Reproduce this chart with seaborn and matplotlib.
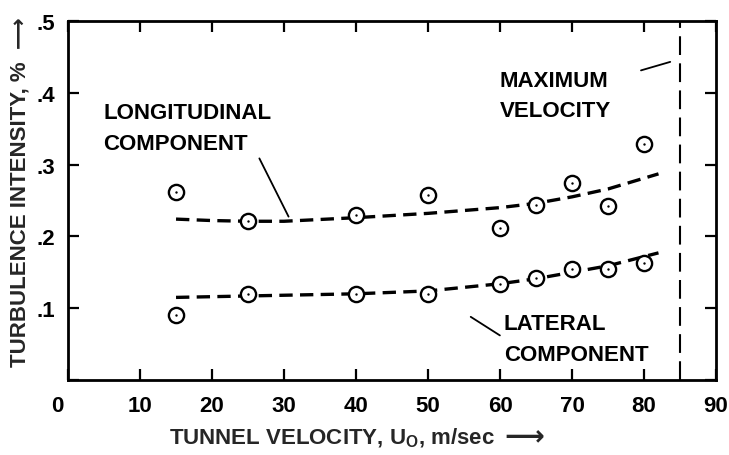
import matplotlib
matplotlib.use("Agg")
import matplotlib.pyplot as plt
import matplotlib.transforms as mtransforms
import seaborn as sns
import pandas as pd

# measured turbulence intensity, %
velocity = [15, 25, 40, 50, 60, 65, 70, 75, 80]
longitudinal = [0.262, 0.221, 0.230, 0.258, 0.212, 0.244, 0.274, 0.242, 0.329]
lateral = [0.091, 0.120, 0.120, 0.120, 0.134, 0.142, 0.155, 0.155, 0.163]

# faired curves
long_fit_x = [15, 20, 25, 30, 40, 50, 60, 65, 70, 75, 82]
long_fit_y = [0.224, 0.222, 0.221, 0.221, 0.226, 0.232, 0.240, 0.246, 0.255, 0.266, 0.287]
lat_fit_x = [15, 25, 40, 50, 60, 65, 70, 75, 82]
lat_fit_y = [0.115, 0.117, 0.120, 0.124, 0.134, 0.141, 0.150, 0.159, 0.177]

max_velocity = 85

x_ticks = [0, 10, 20, 30, 40, 50, 60, 70, 80, 90]
y_ticks = [0, 0.1, 0.2, 0.3, 0.4, 0.5]
y_tick_labels = ["", ".1", ".2", ".3", ".4", ".5"]

pts = pd.DataFrame({
    "velocity": velocity * 2,
    "intensity": longitudinal + lateral,
    "component": ["longitudinal"] * len(velocity) + ["lateral"] * len(velocity),
})

sns.set_theme(style="ticks")
plt.rcParams["font.family"] = ["Liberation Sans", "DejaVu Sans"]
plt.rcParams["font.weight"] = "bold"
plt.rcParams["mathtext.fontset"] = "custom"
plt.rcParams["mathtext.rm"] = "Liberation Sans:bold"
plt.rcParams["mathtext.it"] = "Liberation Sans:bold"
plt.rcParams["mathtext.bf"] = "Liberation Sans:bold"

fig = plt.figure(figsize=(7.29, 4.56), dpi=100)
ax = fig.add_axes([0.0933, 0.1645, 0.889, 0.7875])

# dashed faired curves
for fx, fy in [(long_fit_x, long_fit_y), (lat_fit_x, lat_fit_y)]:
    sns.lineplot(x=fx, y=fy, ax=ax, color="black", lw=2.4,
                 dashes=False, linestyle=(0, (4, 2.2)), zorder=2)

# open circles with centre dot
sns.scatterplot(data=pts, x="velocity", y="intensity", ax=ax, marker="o",
                s=120, facecolor="white", edgecolor="black", linewidth=1.7,
                legend=False, zorder=3)
sns.scatterplot(data=pts, x="velocity", y="intensity", ax=ax, marker="o",
                s=3, color="black", linewidth=0, legend=False, zorder=4)

ax.axvline(max_velocity, color="black", lw=1.5, linestyle=(0, (9, 4)), zorder=1)

ax.set_xlim(0, 90)
ax.set_ylim(0, 0.5)
ax.set_xticks(x_ticks)
ax.set_xticklabels([str(t) for t in x_ticks])
ax.set_yticks(y_ticks)
ax.set_yticklabels(y_tick_labels)

for sp in ax.spines.values():
    sp.set_visible(True)
    sp.set_linewidth(2.0)
    sp.set_color("black")

ax.tick_params(direction="in", length=8, width=1.6, top=True, right=True,
               labelsize=16, colors="black")
ax.tick_params(axis="x", pad=11)
ax.tick_params(axis="y", pad=9)

# shared origin "0" sits a little left of the corner
lbl0 = ax.get_xticklabels()[0]
lbl0.set_transform(lbl0.get_transform() +
                   mtransforms.ScaledTranslation(-11 / 100, 0, fig.dpi_scale_trans))

ax.set_xlabel("TUNNEL VELOCITY, U$_\\mathrm{O}$, m/sec", fontsize=16,
              fontweight="bold")
ax.xaxis.set_label_coords(0.407, -0.128)
ax.set_ylabel("TURBULENCE INTENSITY, %  \u27f6", fontsize=16,
              fontweight="bold")
ax.yaxis.set_label_coords(-0.058, 0.526)

txt = dict(fontsize=16, fontweight="bold", color="black", linespacing=1.6)
ax.text(4.9, 0.351, "LONGITUDINAL\nCOMPONENT", va="center", ha="left", **txt)
ax.text(60.5, 0.057, "LATERAL\nCOMPONENT", va="center", ha="left", **txt)
ax.text(59.9, 0.396, "MAXIMUM\nVELOCITY", va="center", ha="left", **txt)

lead = dict(arrowstyle="-", color="black", lw=1.3)
ax.annotate("", xy=(30.8, 0.224), xytext=(26.4, 0.312), arrowprops=lead)
ax.annotate("", xy=(60.3, 0.060), xytext=(55.6, 0.090), arrowprops=lead)
ax.annotate("", xy=(84.0, 0.444), xytext=(79.2, 0.430), arrowprops=lead)

ax.grid(False)

# arrow after the x label
fig.canvas.draw()
bb = ax.xaxis.label.get_window_extent(fig.canvas.get_renderer())
W, H = fig.bbox.width, fig.bbox.height
fig.text((bb.x1 + 10) / W, (bb.y1 - 10) / H, "\u27f6", family="DejaVu Sans",
         fontsize=20, va="center", ha="left")

fig.savefig("out.png", dpi=100)
